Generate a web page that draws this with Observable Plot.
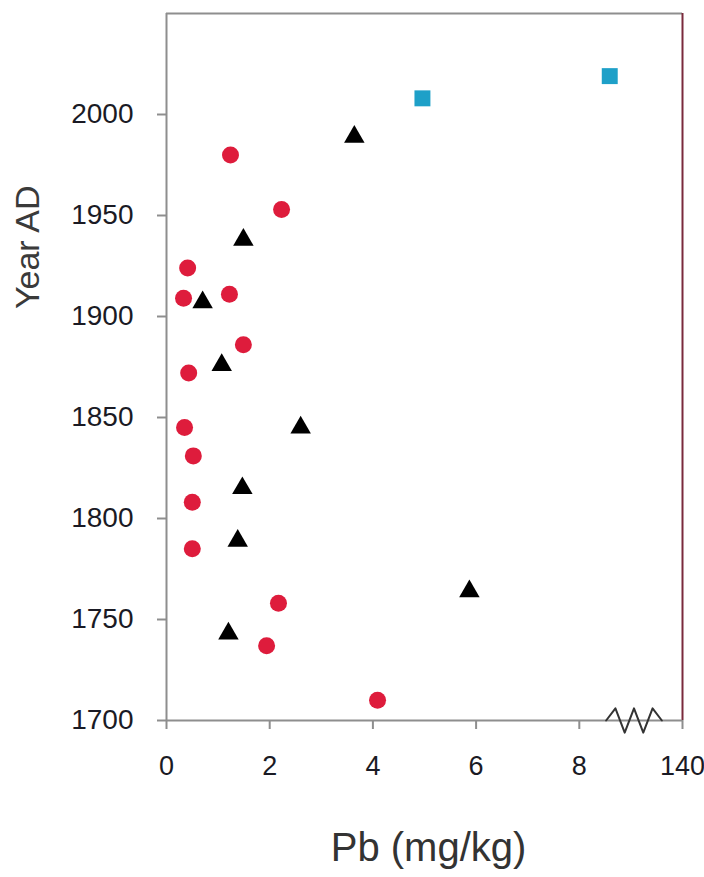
<!DOCTYPE html>
<html>
<head>
<meta charset="utf-8">
<script src="https://cdn.jsdelivr.net/npm/d3@7"></script>
<script src="https://cdn.jsdelivr.net/npm/@observablehq/plot@0.6"></script>
<style>
  html, body { margin: 0; padding: 0; background: #fff; }
</style>
</head>
<body>
<div id="chart"></div>
<script>
// Red circles
const redPb   = [1.24, 2.23, 0.41, 0.33, 1.22, 1.49, 0.43, 0.35, 0.52, 0.50, 0.50, 2.17, 1.94, 4.09];
const redYear = [1980, 1953, 1924, 1909, 1911, 1886, 1872, 1845, 1831, 1808, 1785, 1758, 1737, 1710];
// Black triangles
const triPb   = [3.64, 1.49, 0.70, 1.07, 2.60, 1.47, 1.38, 5.87, 1.20];
const triYear = [1989, 1938, 1907, 1876, 1845, 1815, 1789, 1764, 1743];
// Cyan squares
const sqPb    = [4.96, 8.59];
const sqYear  = [2008, 2019];

const yTicks = [1700, 1750, 1800, 1850, 1900, 1950, 2000];
const xTicks = [0, 2, 4, 6, 8, 10];
const xTickLabels = ["0", "2", "4", "6", "8", "140"];
const xTitle = "Pb (mg/kg)";
const yTitle = "Year AD";

// axis-break zigzag (x in data units, y as offset around the 1700 baseline)
const breakX = [8.52, 8.7, 8.88, 9.06, 9.24, 9.42, 9.6];
const breakDY = [0, 6, -6, 6, -6, 6, 0];

const zip = (xs, ys) => xs.map((x, i) => ({x, y: ys[i]}));
const red = zip(redPb, redYear);
const tri = zip(triPb, triYear);
const sq = zip(sqPb, sqYear);
const brk = breakX.map((x, i) => ({x, y: 1700 + breakDY[i]}));

const font = "Liberation Sans, Arial, sans-serif";
const gray = "#8e8e8e";

const chart = Plot.plot({
  width: 704,
  height: 877,
  marginLeft: 166,
  marginRight: 22,
  marginTop: 13,
  marginBottom: 157,
  style: {fontFamily: font, background: "#fff"},
  x: {domain: [0, 10]},
  y: {domain: [1700, 2050]},
  marks: [
    Plot.ruleY([2050], {stroke: gray, strokeWidth: 2}),
    Plot.ruleX([10], {stroke: "#7a2a3c", strokeWidth: 2}),
    Plot.ruleX([0], {stroke: gray, strokeWidth: 2}),
    Plot.ruleY([1700], {stroke: gray, strokeWidth: 2}),
    Plot.line(brk, {x: "x", y: "y", stroke: "#333", strokeWidth: 2}),
    Plot.axisY({ticks: yTicks, tickSize: 9, tickPadding: 24, tickFormat: d => String(d),
      fontSize: 28, stroke: gray, strokeWidth: 2, fill: "#1a1a24", label: null}),
    Plot.axisX({ticks: xTicks, tickSize: 9, tickPadding: 26, tickFormat: (d, i) => xTickLabels[xTicks.indexOf(d)],
      fontSize: 27, stroke: gray, strokeWidth: 2, fill: "#1a1a24", label: null}),
    Plot.dot(red, {x: "x", y: "y", r: 8.5, fill: "#de1c3c", stroke: "none"}),
    Plot.dot(tri, {x: "x", y: "y", r: 7.6, symbol: "triangle", fill: "#000", stroke: "none"}),
    Plot.dot(sq, {x: "x", y: "y", r: 9, symbol: "square", fill: "#1ea0c8", stroke: "none"}),
    Plot.text([yTitle], {text: d => d, frameAnchor: "left", rotate: -90, dx: -138, dy: -58,
      fontSize: 34, fill: "#3a3a3a", fontFamily: font}),
    Plot.text([xTitle], {text: d => d, frameAnchor: "bottom", dx: 4, dy: 140,
      fontSize: 40, fill: "#333", fontFamily: font})
  ]
});
document.getElementById("chart").appendChild(chart);
</script>
</body>
</html>
